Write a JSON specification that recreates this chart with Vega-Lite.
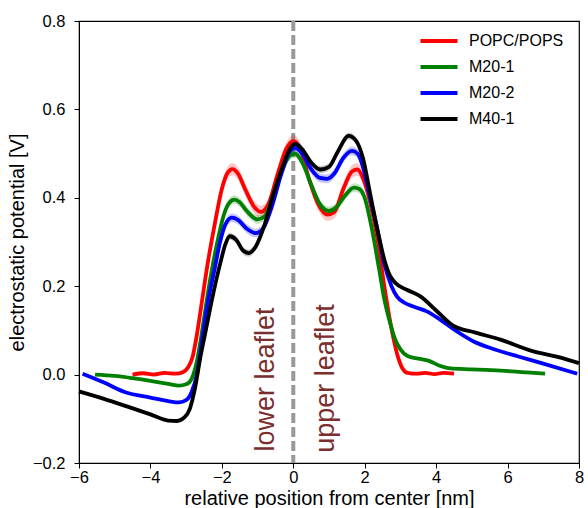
{
  "$schema": "https://vega.github.io/schema/vega-lite/v6.json",
  "width": 500,
  "height": 442,
  "autosize": {"type": "none"},
  "padding": {"left": 79, "top": 21, "right": 9, "bottom": 45},
  "background": "white",
  "config": {
    "font": "Liberation Sans",
    "view": {"stroke": "black", "strokeWidth": 1.2},
    "axis": {
      "grid": false,
      "domainColor": "black",
      "tickColor": "black",
      "tickSize": 5,
      "labelFontSize": 16.5,
      "labelColor": "black",
      "labelFlush": false,
      "titleFontSize": 20,
      "titleFontWeight": "normal",
      "titleColor": "black"
    },
    "axisX": {"labelPadding": 1, "titlePadding": 3},
    "axisY": {"labelPadding": 9, "titlePadding": 5},
    "legend": {
      "labelFontSize": 16,
      "labelColor": "black",
      "padding": 0,
      "symbolOpacity": 1
    }
  },
  "datasets": {
    "curves": [
      {"s": "POPC/POPS", "x": -4.5, "v": 0.0},
      {"s": "POPC/POPS", "x": -4.2, "v": 0.003},
      {"s": "POPC/POPS", "x": -3.9, "v": 0.0},
      {"s": "POPC/POPS", "x": -3.6, "v": 0.004},
      {"s": "POPC/POPS", "x": -3.3, "v": 0.002},
      {"s": "POPC/POPS", "x": -3.1, "v": 0.005},
      {"s": "POPC/POPS", "x": -2.95, "v": 0.016},
      {"s": "POPC/POPS", "x": -2.82, "v": 0.04},
      {"s": "POPC/POPS", "x": -2.7, "v": 0.09},
      {"s": "POPC/POPS", "x": -2.55, "v": 0.17},
      {"s": "POPC/POPS", "x": -2.4, "v": 0.25},
      {"s": "POPC/POPS", "x": -2.2, "v": 0.34, "lo": 0.326, "hi": 0.354},
      {"s": "POPC/POPS", "x": -2.0, "v": 0.42, "lo": 0.406, "hi": 0.434},
      {"s": "POPC/POPS", "x": -1.85, "v": 0.455, "lo": 0.441, "hi": 0.469},
      {"s": "POPC/POPS", "x": -1.7, "v": 0.465, "lo": 0.451, "hi": 0.479},
      {"s": "POPC/POPS", "x": -1.55, "v": 0.455, "lo": 0.441, "hi": 0.469},
      {"s": "POPC/POPS", "x": -1.35, "v": 0.42, "lo": 0.406, "hi": 0.434},
      {"s": "POPC/POPS", "x": -1.1, "v": 0.38, "lo": 0.366, "hi": 0.394},
      {"s": "POPC/POPS", "x": -0.9, "v": 0.368, "lo": 0.354, "hi": 0.382},
      {"s": "POPC/POPS", "x": -0.7, "v": 0.385, "lo": 0.371, "hi": 0.399},
      {"s": "POPC/POPS", "x": -0.45, "v": 0.45, "lo": 0.436, "hi": 0.464},
      {"s": "POPC/POPS", "x": -0.2, "v": 0.51, "lo": 0.496, "hi": 0.524},
      {"s": "POPC/POPS", "x": 0.0, "v": 0.528, "lo": 0.514, "hi": 0.542},
      {"s": "POPC/POPS", "x": 0.2, "v": 0.51, "lo": 0.496, "hi": 0.524},
      {"s": "POPC/POPS", "x": 0.45, "v": 0.44, "lo": 0.426, "hi": 0.454},
      {"s": "POPC/POPS", "x": 0.7, "v": 0.385, "lo": 0.371, "hi": 0.399},
      {"s": "POPC/POPS", "x": 0.95, "v": 0.362, "lo": 0.348, "hi": 0.376},
      {"s": "POPC/POPS", "x": 1.15, "v": 0.368, "lo": 0.354, "hi": 0.382},
      {"s": "POPC/POPS", "x": 1.4, "v": 0.42, "lo": 0.406, "hi": 0.434},
      {"s": "POPC/POPS", "x": 1.65, "v": 0.46, "lo": 0.446, "hi": 0.474},
      {"s": "POPC/POPS", "x": 1.8, "v": 0.464, "lo": 0.45, "hi": 0.478},
      {"s": "POPC/POPS", "x": 1.95, "v": 0.445, "lo": 0.431, "hi": 0.459},
      {"s": "POPC/POPS", "x": 2.15, "v": 0.39, "lo": 0.376, "hi": 0.404},
      {"s": "POPC/POPS", "x": 2.35, "v": 0.31, "lo": 0.296, "hi": 0.324},
      {"s": "POPC/POPS", "x": 2.55, "v": 0.2},
      {"s": "POPC/POPS", "x": 2.72, "v": 0.117},
      {"s": "POPC/POPS", "x": 2.9, "v": 0.049},
      {"s": "POPC/POPS", "x": 3.05, "v": 0.015},
      {"s": "POPC/POPS", "x": 3.2, "v": 0.004},
      {"s": "POPC/POPS", "x": 3.45, "v": 0.002},
      {"s": "POPC/POPS", "x": 3.7, "v": 0.004},
      {"s": "POPC/POPS", "x": 3.95, "v": 0.001},
      {"s": "POPC/POPS", "x": 4.2, "v": 0.004},
      {"s": "POPC/POPS", "x": 4.5, "v": 0.002},

      {"s": "M20-1", "x": -5.55, "v": 0.0},
      {"s": "M20-1", "x": -5.0, "v": -0.003},
      {"s": "M20-1", "x": -4.5, "v": -0.008},
      {"s": "M20-1", "x": -4.0, "v": -0.014},
      {"s": "M20-1", "x": -3.5, "v": -0.021},
      {"s": "M20-1", "x": -3.2, "v": -0.025},
      {"s": "M20-1", "x": -3.0, "v": -0.022},
      {"s": "M20-1", "x": -2.85, "v": -0.01},
      {"s": "M20-1", "x": -2.7, "v": 0.03},
      {"s": "M20-1", "x": -2.55, "v": 0.1},
      {"s": "M20-1", "x": -2.4, "v": 0.18},
      {"s": "M20-1", "x": -2.25, "v": 0.25},
      {"s": "M20-1", "x": -2.1, "v": 0.31, "lo": 0.3, "hi": 0.32},
      {"s": "M20-1", "x": -1.95, "v": 0.36, "lo": 0.35, "hi": 0.37},
      {"s": "M20-1", "x": -1.8, "v": 0.388, "lo": 0.378, "hi": 0.398},
      {"s": "M20-1", "x": -1.65, "v": 0.396, "lo": 0.386, "hi": 0.406},
      {"s": "M20-1", "x": -1.5, "v": 0.39, "lo": 0.38, "hi": 0.4},
      {"s": "M20-1", "x": -1.3, "v": 0.37, "lo": 0.36, "hi": 0.38},
      {"s": "M20-1", "x": -1.0, "v": 0.351, "lo": 0.341, "hi": 0.361},
      {"s": "M20-1", "x": -0.8, "v": 0.358, "lo": 0.348, "hi": 0.368},
      {"s": "M20-1", "x": -0.55, "v": 0.41, "lo": 0.4, "hi": 0.42},
      {"s": "M20-1", "x": -0.3, "v": 0.465, "lo": 0.455, "hi": 0.475},
      {"s": "M20-1", "x": -0.1, "v": 0.495, "lo": 0.485, "hi": 0.505},
      {"s": "M20-1", "x": 0.05, "v": 0.5, "lo": 0.49, "hi": 0.51},
      {"s": "M20-1", "x": 0.25, "v": 0.48, "lo": 0.47, "hi": 0.49},
      {"s": "M20-1", "x": 0.5, "v": 0.43, "lo": 0.42, "hi": 0.44},
      {"s": "M20-1", "x": 0.75, "v": 0.385, "lo": 0.375, "hi": 0.395},
      {"s": "M20-1", "x": 1.0, "v": 0.37, "lo": 0.36, "hi": 0.38},
      {"s": "M20-1", "x": 1.2, "v": 0.378, "lo": 0.368, "hi": 0.388},
      {"s": "M20-1", "x": 1.45, "v": 0.405, "lo": 0.395, "hi": 0.415},
      {"s": "M20-1", "x": 1.7, "v": 0.423, "lo": 0.413, "hi": 0.433},
      {"s": "M20-1", "x": 1.85, "v": 0.42, "lo": 0.41, "hi": 0.43},
      {"s": "M20-1", "x": 2.0, "v": 0.4, "lo": 0.39, "hi": 0.41},
      {"s": "M20-1", "x": 2.2, "v": 0.33, "lo": 0.32, "hi": 0.34},
      {"s": "M20-1", "x": 2.4, "v": 0.24},
      {"s": "M20-1", "x": 2.55, "v": 0.17},
      {"s": "M20-1", "x": 2.7, "v": 0.12},
      {"s": "M20-1", "x": 2.85, "v": 0.08},
      {"s": "M20-1", "x": 3.0, "v": 0.057},
      {"s": "M20-1", "x": 3.2, "v": 0.042},
      {"s": "M20-1", "x": 3.5, "v": 0.036},
      {"s": "M20-1", "x": 3.8, "v": 0.031},
      {"s": "M20-1", "x": 4.1, "v": 0.02},
      {"s": "M20-1", "x": 4.4, "v": 0.014},
      {"s": "M20-1", "x": 5.0, "v": 0.012},
      {"s": "M20-1", "x": 5.8, "v": 0.009},
      {"s": "M20-1", "x": 6.5, "v": 0.005},
      {"s": "M20-1", "x": 7.05, "v": 0.002},

      {"s": "M20-2", "x": -5.9, "v": 0.002},
      {"s": "M20-2", "x": -5.3, "v": -0.018},
      {"s": "M20-2", "x": -4.7, "v": -0.04},
      {"s": "M20-2", "x": -4.0, "v": -0.052},
      {"s": "M20-2", "x": -3.5, "v": -0.06},
      {"s": "M20-2", "x": -3.2, "v": -0.063},
      {"s": "M20-2", "x": -3.0, "v": -0.058},
      {"s": "M20-2", "x": -2.85, "v": -0.04},
      {"s": "M20-2", "x": -2.7, "v": 0.0},
      {"s": "M20-2", "x": -2.55, "v": 0.08},
      {"s": "M20-2", "x": -2.4, "v": 0.16},
      {"s": "M20-2", "x": -2.2, "v": 0.24},
      {"s": "M20-2", "x": -2.05, "v": 0.3, "lo": 0.29, "hi": 0.31},
      {"s": "M20-2", "x": -1.9, "v": 0.34, "lo": 0.33, "hi": 0.35},
      {"s": "M20-2", "x": -1.72, "v": 0.355, "lo": 0.345, "hi": 0.365},
      {"s": "M20-2", "x": -1.55, "v": 0.35, "lo": 0.34, "hi": 0.36},
      {"s": "M20-2", "x": -1.3, "v": 0.33, "lo": 0.32, "hi": 0.34},
      {"s": "M20-2", "x": -1.05, "v": 0.32, "lo": 0.31, "hi": 0.33},
      {"s": "M20-2", "x": -0.85, "v": 0.33, "lo": 0.32, "hi": 0.34},
      {"s": "M20-2", "x": -0.6, "v": 0.38, "lo": 0.37, "hi": 0.39},
      {"s": "M20-2", "x": -0.35, "v": 0.45, "lo": 0.44, "hi": 0.46},
      {"s": "M20-2", "x": -0.1, "v": 0.505, "lo": 0.495, "hi": 0.515},
      {"s": "M20-2", "x": 0.05, "v": 0.513, "lo": 0.503, "hi": 0.523},
      {"s": "M20-2", "x": 0.25, "v": 0.5, "lo": 0.49, "hi": 0.51},
      {"s": "M20-2", "x": 0.5, "v": 0.465, "lo": 0.455, "hi": 0.475},
      {"s": "M20-2", "x": 0.75, "v": 0.445, "lo": 0.435, "hi": 0.455},
      {"s": "M20-2", "x": 0.95, "v": 0.443, "lo": 0.433, "hi": 0.453},
      {"s": "M20-2", "x": 1.15, "v": 0.455, "lo": 0.445, "hi": 0.465},
      {"s": "M20-2", "x": 1.4, "v": 0.49, "lo": 0.48, "hi": 0.5},
      {"s": "M20-2", "x": 1.64, "v": 0.506, "lo": 0.496, "hi": 0.516},
      {"s": "M20-2", "x": 1.8, "v": 0.5, "lo": 0.49, "hi": 0.51},
      {"s": "M20-2", "x": 1.95, "v": 0.47, "lo": 0.46, "hi": 0.48},
      {"s": "M20-2", "x": 2.15, "v": 0.4, "lo": 0.39, "hi": 0.41},
      {"s": "M20-2", "x": 2.35, "v": 0.33},
      {"s": "M20-2", "x": 2.55, "v": 0.25},
      {"s": "M20-2", "x": 2.75, "v": 0.2},
      {"s": "M20-2", "x": 2.9, "v": 0.177},
      {"s": "M20-2", "x": 3.1, "v": 0.163},
      {"s": "M20-2", "x": 3.4, "v": 0.153},
      {"s": "M20-2", "x": 3.74, "v": 0.143},
      {"s": "M20-2", "x": 4.1, "v": 0.125},
      {"s": "M20-2", "x": 4.5, "v": 0.102},
      {"s": "M20-2", "x": 5.05, "v": 0.075},
      {"s": "M20-2", "x": 5.6, "v": 0.058},
      {"s": "M20-2", "x": 6.3, "v": 0.041},
      {"s": "M20-2", "x": 7.0, "v": 0.025},
      {"s": "M20-2", "x": 7.95, "v": 0.002},

      {"s": "M40-1", "x": -6.0, "v": -0.038},
      {"s": "M40-1", "x": -5.3, "v": -0.055},
      {"s": "M40-1", "x": -4.66, "v": -0.072},
      {"s": "M40-1", "x": -4.0, "v": -0.09},
      {"s": "M40-1", "x": -3.5, "v": -0.104},
      {"s": "M40-1", "x": -3.25, "v": -0.105},
      {"s": "M40-1", "x": -3.05, "v": -0.097},
      {"s": "M40-1", "x": -2.9, "v": -0.078},
      {"s": "M40-1", "x": -2.75, "v": -0.03},
      {"s": "M40-1", "x": -2.6, "v": 0.04},
      {"s": "M40-1", "x": -2.45, "v": 0.1},
      {"s": "M40-1", "x": -2.25, "v": 0.18},
      {"s": "M40-1", "x": -2.05, "v": 0.25},
      {"s": "M40-1", "x": -1.9, "v": 0.295, "lo": 0.287, "hi": 0.303},
      {"s": "M40-1", "x": -1.78, "v": 0.313, "lo": 0.305, "hi": 0.321},
      {"s": "M40-1", "x": -1.6, "v": 0.305, "lo": 0.297, "hi": 0.313},
      {"s": "M40-1", "x": -1.4, "v": 0.28, "lo": 0.272, "hi": 0.288},
      {"s": "M40-1", "x": -1.25, "v": 0.275, "lo": 0.267, "hi": 0.283},
      {"s": "M40-1", "x": -1.05, "v": 0.29, "lo": 0.282, "hi": 0.298},
      {"s": "M40-1", "x": -0.8, "v": 0.34, "lo": 0.332, "hi": 0.348},
      {"s": "M40-1", "x": -0.55, "v": 0.41, "lo": 0.402, "hi": 0.418},
      {"s": "M40-1", "x": -0.3, "v": 0.47, "lo": 0.462, "hi": 0.478},
      {"s": "M40-1", "x": -0.1, "v": 0.51, "lo": 0.502, "hi": 0.518},
      {"s": "M40-1", "x": 0.05, "v": 0.522, "lo": 0.514, "hi": 0.53},
      {"s": "M40-1", "x": 0.25, "v": 0.51, "lo": 0.502, "hi": 0.518},
      {"s": "M40-1", "x": 0.5, "v": 0.48, "lo": 0.472, "hi": 0.488},
      {"s": "M40-1", "x": 0.76, "v": 0.464, "lo": 0.456, "hi": 0.472},
      {"s": "M40-1", "x": 1.0, "v": 0.47, "lo": 0.462, "hi": 0.478},
      {"s": "M40-1", "x": 1.25, "v": 0.505, "lo": 0.497, "hi": 0.513},
      {"s": "M40-1", "x": 1.55, "v": 0.54, "lo": 0.532, "hi": 0.548},
      {"s": "M40-1", "x": 1.75, "v": 0.53, "lo": 0.522, "hi": 0.538},
      {"s": "M40-1", "x": 1.95, "v": 0.49, "lo": 0.482, "hi": 0.498},
      {"s": "M40-1", "x": 2.15, "v": 0.41, "lo": 0.402, "hi": 0.418},
      {"s": "M40-1", "x": 2.35, "v": 0.33},
      {"s": "M40-1", "x": 2.55, "v": 0.26},
      {"s": "M40-1", "x": 2.7, "v": 0.225},
      {"s": "M40-1", "x": 2.86, "v": 0.207},
      {"s": "M40-1", "x": 3.18, "v": 0.192},
      {"s": "M40-1", "x": 3.56, "v": 0.177},
      {"s": "M40-1", "x": 4.0, "v": 0.145},
      {"s": "M40-1", "x": 4.49, "v": 0.11},
      {"s": "M40-1", "x": 5.1, "v": 0.095},
      {"s": "M40-1", "x": 5.8, "v": 0.079},
      {"s": "M40-1", "x": 6.7, "v": 0.053},
      {"s": "M40-1", "x": 7.4, "v": 0.04},
      {"s": "M40-1", "x": 8.0, "v": 0.026}
    ]
  },
  "layer": [
    {
      "data": {"values": [{"x": 0}]},
      "mark": {"type": "rule", "color": "#999999", "strokeWidth": 4, "strokeDash": [10, 4]},
      "encoding": {
        "x": {"field": "x", "type": "quantitative", "scale": {"domain": [-6, 8], "nice": false}}
      }
    },
    {
      "data": {"name": "curves"},
      "transform": [{"filter": "isValid(datum.lo)"}],
      "mark": {"type": "area", "interpolate": "monotone", "opacity": 0.22},
      "encoding": {
        "x": {"field": "x", "type": "quantitative"},
        "y": {"field": "hi", "type": "quantitative"},
        "y2": {"field": "lo"},
        "color": {"field": "s", "type": "nominal"}
      }
    },
    {
      "data": {"name": "curves"},
      "mark": {"type": "line", "interpolate": "monotone", "strokeWidth": 3.8},
      "encoding": {
        "x": {"field": "x", "type": "quantitative",
          "scale": {"domain": [-6, 8], "nice": false},
          "axis": {"values": [-6, -4, -2, 0, 2, 4, 6, 8], "format": "d", "title": "relative position from center [nm]"}},
        "y": {"field": "v", "type": "quantitative",
          "scale": {"domain": [-0.2, 0.8], "nice": false},
          "axis": {"values": [-0.2, 0, 0.2, 0.4, 0.6, 0.8], "format": ".1f", "title": "electrostatic potential [V]"}},
        "color": {"field": "s", "type": "nominal",
          "scale": {"domain": ["POPC/POPS", "M20-1", "M20-2", "M40-1"], "range": ["#ff0000", "#008000", "#0000ff", "#000000"]},
          "legend": {"title": null, "orient": "none", "legendX": 352, "legendY": 12,
            "symbolType": "M-3.7,0H3.7", "symbolSize": 100, "symbolStrokeWidth": 4, "symbolFillColor": "transparent",
            "labelOffset": 22, "rowPadding": 10}}
      }
    },
    {
      "data": {"values": [
        {"t": "lower leaflet", "x": -0.55, "y": -0.174},
        {"t": "upper leaflet", "x": 1.13, "y": -0.177}
      ]},
      "mark": {"type": "text", "angle": 270, "align": "left", "baseline": "alphabetic", "fontSize": 27, "color": "#7a2e2e"},
      "encoding": {
        "x": {"field": "x", "type": "quantitative"},
        "y": {"field": "y", "type": "quantitative"},
        "text": {"field": "t"}
      }
    }
  ]
}
